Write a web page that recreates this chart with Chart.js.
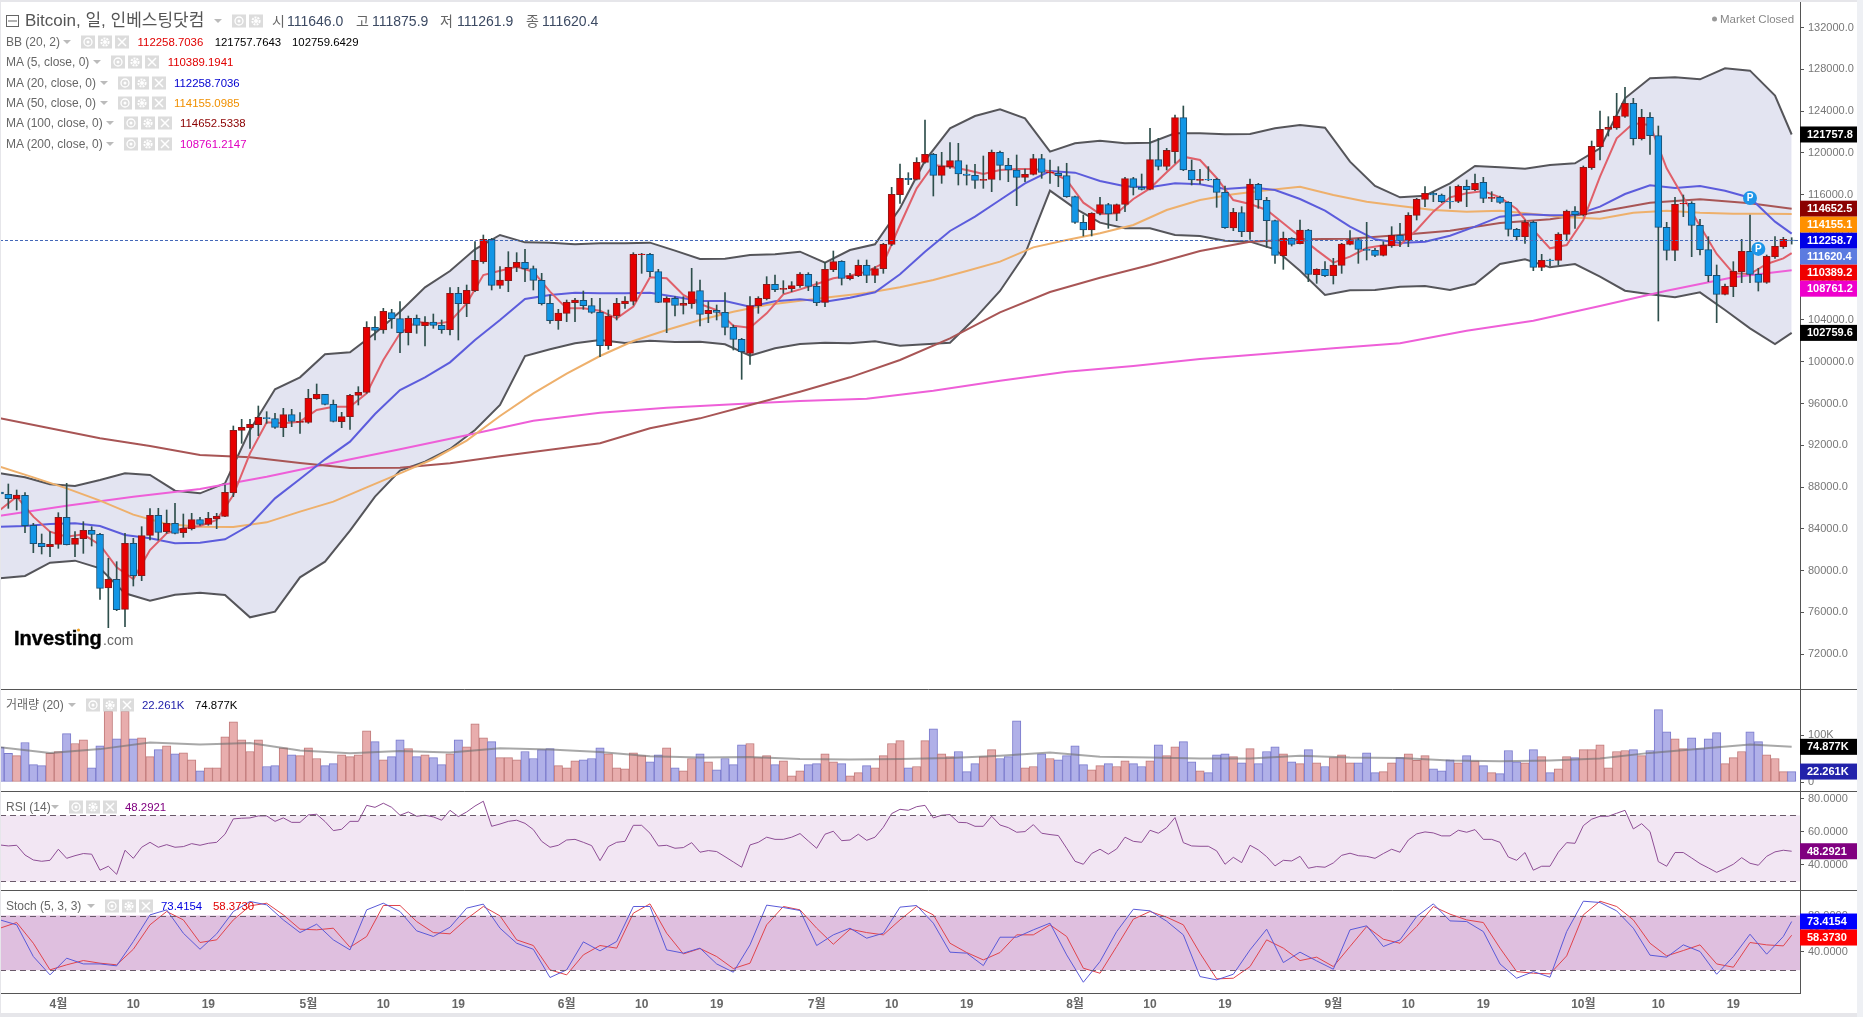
<!DOCTYPE html>
<html lang="ko">
<head>
<meta charset="utf-8">
<title>Bitcoin, 일, 인베스팅닷컴</title>
<script src="https://cdn.jsdelivr.net/npm/chart.js@4"></script>
<style>
  html, body { margin: 0; background: #fff; }
  #stage { position: relative; width: 1863px; height: 1017px; overflow: hidden; background: #fff;
    font-family: "Liberation Sans", "Noto Sans CJK KR", sans-serif; }
  #stage canvas { position: absolute; left: 0; top: 0; }
  .txt { position: absolute; white-space: nowrap; line-height: 16px; transform: translateY(-50%); }
  .box { position: absolute; width: 14px; height: 13px; background: #dcdcdc; transform: translateY(-50%); }
  .box svg { display: block; }
  .arrow { position: absolute; width: 0; height: 0; border: 4px solid transparent; border-top: 4px solid #bbb; border-bottom: 0; transform: translateY(-50%); }
  .edge { position: absolute; background: #e6e6ea; }
</style>
</head>
<body>
<div id="stage">
  <canvas id="chart" width="1863" height="1017"></canvas>
  <div id="overlay"></div>
</div>
<script>
// daily candles, oldest first
const opens = [
  87522,87299,86884,87203,84331,82607,82288,82511,85097,82511,
  83054,83852,83469,78330,79159,76287,82607,79511,83373,85288,
  83724,84522,83628,84011,84873,84426,84937,85192,87459,93428,
  93683,93970,94641,94545,93683,94928,94195,94195,96460,96875,
  95917,94258,94736,96779,97067,103291,103035,104695,104120,102780,
  104152,103450,103801,103482,103067,106546,105557,106802,109579,111717,
  107312,107759,109036,109515,108908,107791,105589,103929,104631,105653,
  105876,105365,104727,101535,104376,105557,105780,110249,110281,108621,
  105685,106068,105397,105557,106802,104599,104918,104727,103291,102141,
  100801,105365,106036,107408,106929,106993,107281,108366,107217,105685,
  108813,109611,107951,108238,109228,108270,108908,111239,115995,117559,
  117463,119091,119857,117846,118676,119251,117974,117846,117367,117463,
  120049,118804,118357,117655,117942,119442,118069,118038,117814,115803,
  113345,112611,114207,115037,114207,115069,117527,116697,116505,119346,
  118708,120112,123368,118325,117367,117463,117463,116218,112803,114271,
  112451,116984,115452,113505,110153,111813,111302,112611,108333,108844,
  108238,109227,111238,111685,110759,110664,110185,111110,112100,111557,
  114015,115547,116122,115962,115356,115356,116792,116473,117176,115643,
  115739,115260,112675,111972,113345,109036,109738,109706,112196,114430,
  114047,118580,120591,122251,122378,123495,124740,121357,123400,121644,
  112866,110664,115101,115165,113058,110727,108270,106450,107184,108621,
  110568,108365,107599,110057,111015,111646
];
const highs = [
  87714,88289,87714,87459,84522,83501,83724,85543,88352,83724,
  84682,84203,83564,81170,80851,83564,83086,84203,85926,85958,
  85799,86437,85416,85480,85097,85575,85480,88193,93843,94481,
  94481,95758,95215,95056,95534,95439,95119,97354,97865,96875,
  96332,95151,96875,97609,103833,104312,105110,105014,105748,104376,
  104472,104312,104567,103993,107089,107121,107344,111494,112132,111813,
  109100,110536,110441,110760,109164,108462,106387,105014,105908,106068,
  106770,106068,106068,104950,106068,106227,110441,110377,110377,108845,
  106227,106227,106227,108940,107823,105748,105429,106610,103514,102237,
  106227,106227,108142,108302,107759,107664,108525,108525,107664,109515,
  110600,109675,108462,109738,109738,109100,111334,116697,118931,118101,
  119538,123145,119953,120049,120974,120910,118836,118900,119697,120272,
  120176,119474,119793,118452,119857,119857,119314,118676,119000,115867,
  114048,114271,115739,115165,115101,117655,117655,117974,122347,121389,
  120432,123624,124485,119314,118420,118676,117559,116825,114686,114845,
  117495,117080,115739,113569,112419,111877,113569,112675,108900,109578,
  109898,111334,112547,111813,113345,110855,111494,112930,113249,114271,
  115643,116760,116282,116058,116760,116920,117399,117973,117654,116282,
  115866,115324,112770,113569,113473,110281,109834,112355,114526,114845,
  118740,121134,124006,123464,125698,126273,125219,124166,123847,122570,
  113345,115739,115962,115324,113632,111972,109259,107440,109578,111717,
  114047,108940,110217,111972,111908,111875.9
];
const lows = [
  87076,85958,85799,83628,81713,81585,81330,82128,82447,81330,
  81649,82351,77244,74531,76159,74627,78521,79032,82926,82926,
  83564,83501,83181,83884,84331,84331,84011,85160,87076,92183,
  91704,92917,94098,93619,92821,93779,93140,94098,96396,95854,
  94226,93683,93523,95854,96970,102078,102716,103195,100865,101599,
  102716,101503,103195,102716,102556,102078,104312,106706,109419,106866,
  107025,106706,108621,107664,106866,105429,103674,103099,103833,103833,
  105014,104631,100482,101184,103993,105110,105429,108462,108142,105653,
  102780,104376,104567,105110,103418,103737,103993,102556,101120,98311,
  99747,104631,105908,106706,106546,106706,107121,106802,105365,105270,
  108621,107344,107823,108142,107568,107568,108462,111111,115165,116952,
  117399,119000,115867,117080,118516,116920,116920,116601,116601,116282,
  117399,117240,114941,117240,117878,117559,117080,116761,115739,113250,
  112037,112037,114048,112771,113505,114367,115963,116442,116442,118357,
  118357,119000,118293,116920,117016,117335,114782,112771,112547,111972,
  111717,114686,110951,109419,108844,111079,111270,107663,107504,108142,
  107440,108461,111175,109419,109738,110057,110121,110951,111015,111015,
  113569,114845,115324,115228,114686,115228,114845,116377,115228,115324,
  115164,112036,111653,111334,108717,108717,109163,109259,111653,112770,
  113951,118420,119314,121612,122251,123400,120750,121229,119857,103897,
  109738,109674,113888,110057,110217,107663,103737,106386,106226,107567,
  107567,106769,107503,109897,110855,111261.9
];
const closes = [
  87331,86884,87235,84299,82575,82288,82511,85097,82479,83086,
  83852,83469,78298,79159,76255,82607,79511,83341,85288,83660,
  84522,83564,84043,84873,84426,85001,85192,87491,93428,93715,
  94002,94673,94545,93715,94928,94290,94290,96492,96875,95917,
  94290,94736,96779,97067,103290,103003,104823,104120,102780,104152,
  103482,103801,103482,103067,106546,105557,106834,109706,111717,107312,
  107823,109036,109515,108908,107791,105557,103929,104663,105685,105908,
  105365,104727,101535,104376,105589,105812,110281,110313,108621,105685,
  106068,105397,105589,106706,104535,104918,104727,103291,102141,100960,
  105365,106068,107408,106898,107025,107281,108398,107217,105653,108845,
  109579,107983,108238,109228,108270,108908,111239,116027,117559,117431,
  119091,119857,117846,118708,119251,117974,117846,117367,117463,120049,
  118804,118357,117655,117942,119442,118133,118133,117814,115803,113345,
  112611,114207,115037,114143,115037,117527,116697,116505,119346,118708,
  120240,123368,118357,117399,117463,117399,116218,112835,114303,112451,
  116984,115484,113505,110185,111813,111238,112611,108365,108844,108238,
  109259,111270,111685,110759,110664,110185,111142,112100,111557,114015,
  115547,116122,115962,115324,115292,116792,116473,117080,115643,115739,
  115260,112675,111972,113345,109036,109706,109674,112228,114430,114079,
  118612,120623,122251,122442,123527,124740,121357,123400,121644,112866,
  110664,115069,115165,113058,110727,108238,106450,107216,108653,110568,
  108365,107599,110089,111047,111717,111620.4
];

// thousands of coins per day
const volumes = [
  74,61,56,84,37,35,61,65,103,82,
  90,30,77,151,92,151,92,94,54,69,
  77,60,62,47,24,30,30,96,128,90,
  65,90,33,35,73,58,56,73,50,35,
  39,58,54,58,109,86,47,54,90,71,
  54,58,52,37,60,90,75,124,94,86,
  52,52,47,65,50,69,71,35,30,45,
  47,50,73,60,30,28,62,56,43,58,
  73,30,24,50,60,43,26,50,37,79,
  82,52,56,37,45,13,24,37,39,60,
  43,39,13,20,35,30,56,82,88,30,
  33,88,113,60,54,65,22,39,54,69,
  50,54,130,30,33,60,50,47,56,77,
  37,26,35,39,33,45,39,33,45,79,
  56,75,86,43,24,20,58,60,54,41,
  71,39,65,75,60,43,39,69,41,33,
  52,58,41,41,62,20,22,41,52,60,
  46,56,28,24,47,41,56,45,35,20,
  18,67,43,41,69,54,20,28,54,52,
  69,69,79,30,65,67,69,56,67,154,
  107,92,71,94,71,92,105,39,52,65,
  107,86,58,50,22,22.261
];
const rsi = [
  52.1,51.5,51.9,46.0,43.0,42.2,42.8,49.5,44.0,45.6,46.9,46.5,36.8,39.2,34.3,48.9,44.0,50.7,53.7,50.7,
  52.3,50.7,51.1,52.9,51.9,53.1,53.7,58.6,67.9,68.3,68.5,69.7,69.7,66.4,68.5,65.8,65.8,70.3,70.7,66.3,
  60.8,61.6,66.4,66.4,76.1,74.9,77.4,74.9,70.1,72.1,69.5,70.1,69.1,67.1,73.1,69.3,72.1,75.7,78.6,63.4,
  64.8,66.4,67.1,65.2,61.4,54.3,50.7,51.9,55.1,55.5,53.7,51.7,42.6,51.1,53.7,
  54.3,64.0,64.0,59.2,51.5,51.9,50.1,50.5,53.5,47.7,48.7,48.1,45.0,41.8,38.6,52.1,53.7,56.8,55.5,55.5,
  56.8,59.0,54.5,50.1,58.6,60.4,54.7,55.1,58.6,54.9,56.8,62.8,71.1,73.7,73.1,75.3,76.1,68.5,70.1,70.5,
  65.8,65.6,63.4,63.4,69.5,64.2,62.6,59.8,60.2,64.4,59.2,58.4,57.8,50.1,42.2,40.4,46.9,49.5,46.5,49.7,
  56.8,54.3,53.7,61.0,59.2,62.6,68.7,53.5,51.5,51.3,51.3,48.5,40.4,44.6,
  41.4,51.9,49.1,45.0,39.4,42.8,42.4,45.2,38.0,39.0,38.6,41.2,45.8,47.1,45.6,45.2,44.0,46.9,49.5,47.7,
  55.1,58.8,60.0,59.4,57.6,57.6,61.0,59.8,61.4,55.5,55.5,53.7,44.8,42.8,47.5,36.8,39.2,39.2,47.7,53.5,
  53.1,63.8,67.7,69.5,69.5,71.3,73.1,61.8,65.0,60.2,42.0,39.2,47.5,47.5,44.2,40.8,38.2,35.5,37.8,40.4,
  44.4,41.0,39.8,45.2,47.9,48.9,48.2921
];

// the slower-moving lines are read every few bars
const bbStep = 3;
const bbUpper = [
  89310,88927,88257,88097,88672,89310,89150,87650,87395,88352,93460,97354,98503,100705,100897,
  102716,104791,107121,108685,110760,112132,111430,111398,111239,111334,
  111334,111398,110632,109834,109866,110217,110281,110536,109483,110696,111239,114686,119251,122347,123528,
  124166,123304,120112,120910,121166,120910,120974,121868,121868,121772,
  121804,122346,122666,122410,119154,116824,115739,115899,117080,118739,118612,118484,118835,118995,120431,
  125219,127134,127230,127039,128092,127869,125475,121757.7643
];
const bbLower = [
  79255,79479,80755,80947,80213,77819,77117,77691,77883,77659,75521,76063,79351,80851,83820,
  87076,89565,90427,91640,93460,95854,100546,101184,101759,102078,
  101790,102014,101886,101918,101663,100577,101280,101695,101822,101758,101950,101535,101663,101822,104152,
  106770,110313,116378,114686,113313,112771,112771,112132,112037,111590,
  111494,110759,108717,106386,106833,106865,107184,107248,106865,107440,109355,109802,109036,109355,108142,
  106801,106450,106163,106642,104950,103194,101694,102759.6429
];
const ma5Step = 2;
const ma5 = [
  85799,87076,85160,83724,83245,83469,82447,80309,79191,81968,83564,84043,84267,84841,87235,91225,94194,94098,
  94258,95375,95694,95694,96971,100163,
  102716,103833,103610,103833,105589,108302,108717,109100,108621,106706,105110,105110,104887,104152,
  105270,108079,107983,106387,105525,104950,103450,103259,104631,106451,106929,107440,107983,108238,108621,109419,
  113090,116601,118836,118676,118357,117974,118357,118452,118452,118229,117399,115229,114143,114207,115580,116601,
  118133,119634,119314,117591,115484,
  115101,114526,113249,111972,110685,109484,110057,110887,111142,111175,112611,114366,115739,116122,116345,115739,
  114622,112611,110855,111175,113569,117718,121389,122825,122666,118516,115739,112994,110312,108461,108397,109355,
  109897,110389.1941
];
const ma20Step = 3;
const ma20 = [
  84203,84267,84458,84522,84267,83405,83086,82607,82671,82990,84362,86916,88767,90651,92342,94992,97290,98503,99939,102078,
  103993,106004,106387,106610,106546,
  106546,106610,106227,105812,105812,105270,105780,105972,105748,106131,106642,108366,110536,112515,113888,115484,
  117080,118261,118101,117303,116793,116697,117080,116984,116537,
  116697,116441,115579,114462,112930,111717,111366,111494,112068,112930,113888,114111,114015,114047,114845,116058,
  116888,116633,116824,116377,115707,113409,112258.7036
];
const ma50Step = 4;
const ma50 = [
  89948,88927,87874,86693,85352,84458,84203,84171,84618,85639,86597,87969,89310,90683,92438,94800,96971,98854,100546,
  101982,103035,103993,104791,105429,105844,106227,106578,107121,107823,108685,109579,110951,111654,112292,113090,
  114526,115484,116027,
  116409,116760,115962,115324,114909,114526,114366,114462,114143,113824,113696,114271,114462,114271,114175,114175,
  114155.0985
];
const ma100Step = 6;
const ma100 = [
  94577,93619,92662,91927,91066,90842,90300,89821,89853,90268,90938,91576,92183,
  93619,94576,95853,97130,98503,100162,102237,104727,106674,108047,109260,110600,
  111494,111717,111781,112132,112547,113281,113632,114366,115228,115547,115164,114652.5338
];
const ma200Step = 8;
const ma200 = [
  85256,86214,87076,87810,88991,90331,91608,92949,94353,95119,
  95598,95917,96236,96460,97226,98183,99045,99588,100258,
  100768,101279,101758,102971,103929,105333,106801,108078,108761.2147
];
const volMaStep = 6;
const volMa = [
  74,62,70,84,80,83,67,61,66,63,72,69,64,
  55,52,53,49,48,49,51,56,63,54,52,50,
  50,56,52,51,46,44,46,50,62,71,80,74.877
];
const stochStep = 2;
const stochK = [
  75.2,69.8,35.0,14.9,33.2,26.9,26.9,24.8,51.5,80.7,86.2,60.6,43.0,59.9,84.4,95.4,91.7,75.2,61.3,70.5,53.3,42.3,
  86.2,93.5,84.4,63.2,57.0,67.2,88.1,92.5,66.1,49.6,43.0,12.0,20.4,51.1,41.2,51.5,
  89.9,89.9,42.3,38.7,44.2,26.9,17.8,47.8,91.4,88.8,85.5,47.1,58.8,66.1,55.1,60.6,89.2,91.0,71.6,39.8,38.7,25.1,
  56.2,56.2,64.3,71.6,36.8,6.8,29.5,62.4,86.9,85.1,73.8,58.8,13.0,9.4,15.6,
  42.3,65.0,28.4,39.8,30.2,21.1,64.3,68.7,46.0,53.3,78.9,92.8,74.1,73.4,62.4,26.9,11.2,18.5,12.3,62.4,95.7,94.3,
  85.1,66.1,36.5,34.3,47.8,40.5,15.6,35.0,59.5,37.6,57.0,73.4154
];
const stochD = [
  66.1,72.3,49.6,20.4,25.9,30.6,27.7,25.9,43.0,69.8,84.4,75.2,50.4,53.3,75.2,90.6,93.5,80.7,65.0,64.3,66.1,45.2,
  57.0,91.0,91.0,73.4,61.3,59.9,76.3,89.9,79.6,53.3,47.1,20.4,14.9,36.8,47.1,44.2,
  82.6,92.8,60.6,37.9,43.8,35.0,21.8,27.7,69.8,89.9,86.2,66.1,48.5,65.0,61.3,58.8,75.2,89.9,80.7,49.6,39.4,31.3,
  39.4,58.8,58.8,69.8,57.0,22.2,16.7,46.0,76.0,84.4,78.2,69.8,38.7,10.5,11.2,
  24.0,53.3,44.2,30.6,34.3,24.0,46.0,67.9,54.0,49.6,67.9,89.9,81.5,75.2,72.3,44.2,18.5,16.7,16.0,35.7,80.7,95.7,
  89.9,75.2,49.6,35.7,41.6,47.8,26.9,23.3,50.4,47.8,46.7,58.373
];

// axis ticks per pane
const priceTicks = [132000,128000,124000,120000,116000,112000,108000,104000,100000,96000,92000,88000,84000,80000,76000,72000];
const volumeTicks = [100, 0];
const rsiTicks = [80, 60, 40];
const stochTicks = [80, 60, 40];

// coloured value tags on the right axis
const priceTags = [
  { value: 121757.8, color: "#000000" },
  { value: 114652.5, color: "#8b0000" },
  { value: 114155.1, color: "#ff9000" },
  { value: 112258.7, color: "#0000e6" },
  { value: 111620.4, color: "#5b7be0" },
  { value: 110389.2, color: "#f00000" },
  { value: 108761.2, color: "#ee00cc" },
  { value: 102759.6, color: "#000000" }
];
const volumeTags = [
  { value: 74.877, color: "#000000" },
  { value: 22.261, color: "#2222aa" }
];
const rsiTags = [{ value: 48.2921, color: "#800080" }];
const stochTags = [
  { value: 73.4154, color: "#0000ff" },
  { value: 58.373, color: "#ff0000" }
];

const lastPrice = 111620.4;
const pivotBars = [210, 211];
const pivotPrices = [115675, 110800];

// Mar 25 through one spare slot after the last bar
const barCount = opens.length;
const dateLabels = Array.from({ length: barCount + 1 }, (_, i) =>
  new Date(Date.UTC(2025, 2, 25 + i)).toISOString().slice(0, 10)
);

const sampled = (values, step) =>
  values.map((y, k) => ({ x: dateLabels[Math.min(k * step, barCount - 1)], y }));

const isUp = closes.map((c, i) => c >= opens[i]);

const tickText = (label) => {
  const [, month, day] = label.split("-").map(Number);
  if (day === 1) return `${month}월`;
  return day === 10 || day === 19 ? String(day) : "";
};

const FONT = '"Liberation Sans", "Noto Sans CJK KR", sans-serif';
Chart.defaults.font.family = FONT;
Chart.defaults.color = "#777";

const lineSet = (label, data, yAxisID, color, width, order) => ({
  type: "line",
  label,
  data,
  yAxisID,
  borderColor: color,
  borderWidth: width,
  pointRadius: 0,
  tension: 0,
  fill: false,
  order
});

const paneAxis = (weight, min, max, ticks, format) => ({
  type: "linear",
  position: "right",
  stack: "panes",
  stackWeight: weight,
  min,
  max,
  grid: { drawOnChartArea: false, tickLength: 4, color: "#555" },
  border: { color: "#555" },
  afterFit: (scale) => {
    scale.width = 63;
    scale.paddingTop = 0;
    scale.paddingBottom = 0;
  },
  afterBuildTicks: (scale) => { scale.ticks = ticks.map((value) => ({ value })); },
  ticks: { autoSkip: false, padding: 4, font: { size: 11 }, color: "#777", callback: format }
});

const bands = [
  { axis: "yRsi", top: 70, bottom: 30, color: "#f2e6f3" },
  { axis: "yStoch", top: 80, bottom: 20, color: "#dfbfdf" }
];

const paneDecor = {
  id: "paneDecor",
  beforeDatasetsDraw(chart) {
    const { ctx, chartArea } = chart;
    ctx.save();
    bands.forEach((b) => {
      const scale = chart.scales[b.axis];
      const top = scale.getPixelForValue(b.top);
      ctx.fillStyle = b.color;
      ctx.fillRect(chartArea.left, top, chartArea.width, scale.getPixelForValue(b.bottom) - top);
    });
    ctx.restore();
  },
  afterDatasetsDraw(chart) {
    const { ctx, chartArea, scales } = chart;
    ctx.save();
    // band limits
    ctx.strokeStyle = "#6a5a6a";
    ctx.lineWidth = 1;
    ctx.setLineDash([6, 4]);
    bands.forEach((b) => {
      [b.top, b.bottom].forEach((v) => {
        const y = Math.round(scales[b.axis].getPixelForValue(v)) + 0.5;
        ctx.beginPath();
        ctx.moveTo(chartArea.left, y);
        ctx.lineTo(chartArea.right, y);
        ctx.stroke();
      });
    });
    // last price
    const priceY = Math.round(scales.yPrice.getPixelForValue(lastPrice)) + 0.5;
    ctx.strokeStyle = "#4468b8";
    ctx.setLineDash([3, 2]);
    ctx.beginPath();
    ctx.moveTo(chartArea.left, priceY);
    ctx.lineTo(chartArea.right, priceY);
    ctx.stroke();
    ctx.setLineDash([]);
    // pivot letters
    const meta = chart.getDatasetMeta(chart.data.datasets.findIndex((d) => d.label === "pivots"));
    ctx.fillStyle = "#fff";
    ctx.font = `bold 10px ${FONT}`;
    ctx.textAlign = "center";
    ctx.textBaseline = "middle";
    meta.data.forEach((pt) => ctx.fillText("P", pt.x, pt.y + 0.5));
    ctx.restore();
  },
  afterDraw(chart) {
    const { ctx, chartArea, scales } = chart;
    ctx.save();
    // pane separators
    ctx.strokeStyle = "#555";
    ctx.lineWidth = 1;
    ["yPrice", "yVolume", "yRsi"].forEach((id) => {
      const y = Math.round(scales[id].bottom) + 0.5;
      ctx.beginPath();
      ctx.moveTo(0, y);
      ctx.lineTo(1857, y);
      ctx.stroke();
    });
    const baseY = Math.round(scales.yStoch.bottom) + 0.5;
    ctx.beginPath();
    ctx.moveTo(0, baseY);
    ctx.lineTo(chartArea.right, baseY);
    ctx.stroke();
    // value tags, pushed down when they would overlap
    const drawTags = (tags, axis, format) => {
      let prev = -Infinity;
      tags.forEach((t) => {
        const y = Math.max(scales[axis].getPixelForValue(t.value), prev + 16);
        prev = y;
        ctx.fillStyle = t.color;
        ctx.fillRect(chartArea.right, y - 8, 57, 16);
        ctx.fillStyle = "#fff";
        ctx.font = `bold 11px ${FONT}`;
        ctx.textAlign = "left";
        ctx.textBaseline = "middle";
        ctx.fillText(format(t.value), chartArea.right + 7, y + 0.5);
      });
    };
    drawTags(priceTags, "yPrice", (v) => v.toFixed(1));
    drawTags(volumeTags, "yVolume", (v) => `${v.toFixed(3)}K`);
    drawTags(rsiTags, "yRsi", (v) => v.toFixed(4));
    drawTags(stochTags, "yStoch", (v) => v.toFixed(4));
    ctx.restore();
  }
};

new Chart(document.getElementById("chart"), {
  type: "bar",
  data: {
    labels: dateLabels,
    datasets: [
      // Bollinger envelope, filled down to the lower line
      { ...lineSet("BB upper", sampled(bbUpper, bbStep), "yPrice", "#55555a", 2, 100), fill: "+1", backgroundColor: "#e3e4f1" },
      lineSet("BB lower", sampled(bbLower, bbStep), "yPrice", "#55555a", 2, 90),
      lineSet("MA 200", sampled(ma200, ma200Step), "yPrice", "#ee5fd8", 2, 80),
      lineSet("MA 100", sampled(ma100, ma100Step), "yPrice", "#a85555", 2, 70),
      lineSet("MA 50", sampled(ma50, ma50Step), "yPrice", "#eeb06c", 2, 60),
      lineSet("MA 20", sampled(ma20, ma20Step), "yPrice", "#5c5cdc", 2, 50),
      lineSet("MA 5", sampled(ma5, ma5Step), "yPrice", "#e0606a", 2, 40),
      {
        label: "wicks",
        data: lows.map((low, i) => [low, highs[i]]),
        yAxisID: "yPrice",
        grouped: false,
        barThickness: 1,
        backgroundColor: "#2e4f4c",
        order: 20
      },
      {
        label: "bodies",
        data: opens.map((open, i) => [open, closes[i]]),
        yAxisID: "yPrice",
        grouped: false,
        barThickness: 7,
        borderWidth: 1,
        borderSkipped: false,
        backgroundColor: isUp.map((up) => (up ? "#e60000" : "#1296e6")),
        borderColor: isUp.map((up) => (up ? "#8a1a1a" : "#1b4f72")),
        order: 10
      },
      {
        type: "line",
        label: "pivots",
        data: pivotBars.map((bar, i) => ({ x: dateLabels[bar], y: pivotPrices[i] })),
        yAxisID: "yPrice",
        showLine: false,
        pointRadius: 7,
        pointBackgroundColor: "#1e96e8",
        pointBorderWidth: 0,
        order: 5
      },
      {
        label: "volume",
        data: volumes,
        yAxisID: "yVolume",
        grouped: false,
        barThickness: 8.4,
        borderWidth: 1,
        borderSkipped: false,
        backgroundColor: isUp.map((up) => (up ? "#e8adad" : "#b0b0e8")),
        borderColor: isUp.map((up) => (up ? "#c07a7a" : "#7a7acc")),
        order: 30
      },
      lineSet("volume MA", sampled(volMa, volMaStep), "yVolume", "rgba(110,110,110,0.6)", 2, 25),
      lineSet("RSI", sampled(rsi, 1), "yRsi", "#8e4e95", 1, 15),
      lineSet("%D", sampled(stochD, stochStep), "yStoch", "#e0444c", 1, 14),
      lineSet("%K", sampled(stochK, stochStep), "yStoch", "#5a5ad8", 1, 13)
    ]
  },
  options: {
    responsive: false,
    animation: false,
    layout: { padding: 0, autoPadding: false },
    plugins: { legend: { display: false }, tooltip: { enabled: false } },
    scales: {
      x: {
        type: "category",
        offset: false,
        grid: { display: false, drawTicks: false },
        border: { display: false },
        afterFit: (scale) => {
          scale.height = 24;
          scale.paddingLeft = 0;
          scale.paddingRight = 0;
        },
        ticks: {
          autoSkip: false,
          maxRotation: 0,
          padding: 4,
          font: { size: 12, weight: "bold" },
          color: "#666",
          callback(value) { return tickText(this.getLabelForValue(value)); }
        }
      },
      yPrice: paneAxis(689, 68658, 134636, priceTicks, (v) => v.toFixed(1)),
      yVolume: paneAxis(102, -19.1, 197.9, volumeTicks, (v) => (v === 0 ? "0" : `${v}K`)),
      yRsi: paneAxis(99, 24.8, 84.8, rsiTicks, (v) => v.toFixed(4)),
      yStoch: paneAxis(103, -5, 108, stochTicks, (v) => v.toFixed(4))
    }
  },
  plugins: [paneDecor]
});

// ---- DOM legend rows above the canvas ----
const overlay = document.getElementById("overlay");

const put = (cls, x, y, css = {}, text = "") => {
  const el = document.createElement("div");
  el.className = cls;
  el.style.left = `${x}px`;
  el.style.top = `${y}px`;
  Object.assign(el.style, css);
  el.textContent = text;
  overlay.appendChild(el);
  return el;
};

const ICONS = {
  eye: '<circle cx="7" cy="6.5" r="4" fill="none" stroke="#fff" stroke-width="1.3"/><circle cx="7" cy="6.5" r="1.5" fill="#fff"/>',
  gear: '<circle cx="7" cy="6.5" r="3.6" fill="none" stroke="#fff" stroke-width="2" stroke-dasharray="2 1"/><circle cx="7" cy="6.5" r="2" fill="#fff"/>',
  close: '<path d="M3 2.5 L11 10.5 M11 2.5 L3 10.5" stroke="#fff" stroke-width="1.5"/>'
};

const iconRow = (x, y, names) => {
  names.forEach((name, i) => {
    const box = put("box", x + i * 17, y);
    box.innerHTML = `<svg width="14" height="13">${ICONS[name]}</svg>`;
  });
};

const studyRow = (y, label, arrowX, iconX, values) => {
  put("txt", 6, y, { fontSize: "12px", color: "#666" }, label);
  put("arrow", arrowX, y);
  iconRow(iconX, y, ["eye", "gear", "close"]);
  values.forEach((v) => put("txt", v.x, y, { fontSize: "11.4px", color: v.color }, v.text));
};

// instrument header
put("box", 6, 21, { width: "11px", height: "10px", background: "#fff", border: "1px solid #666" });
put("box", 8, 21, { width: "9px", height: "1px", background: "#666" });
put("txt", 25, 21, { fontSize: "17px", color: "#555" }, "Bitcoin, 일, 인베스팅닷컴");
put("arrow", 214, 21);
iconRow(232, 21, ["eye", "gear"]);
[
  { label: "시", lx: 272, value: "111646.0", vx: 287 },
  { label: "고", lx: 356, value: "111875.9", vx: 372 },
  { label: "저", lx: 440, value: "111261.9", vx: 457 },
  { label: "종", lx: 526, value: "111620.4", vx: 542 }
].forEach((o) => {
  put("txt", o.lx, 21, { fontSize: "14px", color: "#666" }, o.label);
  put("txt", o.vx, 21, { fontSize: "14px", color: "#3c4a63" }, o.value);
});

studyRow(41.7, "BB (20, 2)", 63, 81, [
  { x: 137.6, text: "112258.7036", color: "#e00000" },
  { x: 214.7, text: "121757.7643", color: "#000" },
  { x: 292, text: "102759.6429", color: "#000" }
]);
studyRow(62.3, "MA (5, close, 0)", 93, 111, [{ x: 167.7, text: "110389.1941", color: "#e00000" }]);
studyRow(82.7, "MA (20, close, 0)", 100, 118, [{ x: 174, text: "112258.7036", color: "#0000d0" }]);
studyRow(102.7, "MA (50, close, 0)", 100, 118, [{ x: 174, text: "114155.0985", color: "#f09000" }]);
studyRow(123, "MA (100, close, 0)", 106, 124, [{ x: 180, text: "114652.5338", color: "#8b0000" }]);
studyRow(143.7, "MA (200, close, 0)", 106, 124, [{ x: 180, text: "108761.2147", color: "#e000c0" }]);
studyRow(705, "거래량 (20)", 68, 86, [
  { x: 142, text: "22.261K", color: "#2222aa" },
  { x: 195, text: "74.877K", color: "#000" }
]);
studyRow(807, "RSI (14)", 51, 69, [{ x: 125, text: "48.2921", color: "#800080" }]);
studyRow(906, "Stoch (5, 3, 3)", 87, 105, [
  { x: 161, text: "73.4154", color: "#0000e0" },
  { x: 213, text: "58.3730", color: "#e00000" }
]);

put("txt", 1712, 19, { width: "5px", height: "5px", borderRadius: "50%", background: "#999" });
put("txt", 1720, 19, { fontSize: "11.5px", color: "#888" }, "Market Closed");

// wordmark
put("txt", 14, 638, { fontSize: "20px", fontWeight: "bold", color: "#000", webkitTextStroke: "0.4px #000" }, "Investing");
put("txt", 103, 640, { fontSize: "14px", color: "#666" }, ".com");
put("txt", 77, 630, { width: "3px", height: "3px", background: "#f0a020", borderRadius: "50%" });

// page chrome
put("edge", 0, 0, { width: "1863px", height: "2px" });
put("edge", 0, 0, { width: "1px", height: "1017px" });
put("edge", 0, 1013, { width: "1863px", height: "4px" });
put("edge", 1857, 0, { width: "6px", height: "1017px", background: "#eef0f4" });
</script>
</body>
</html>
